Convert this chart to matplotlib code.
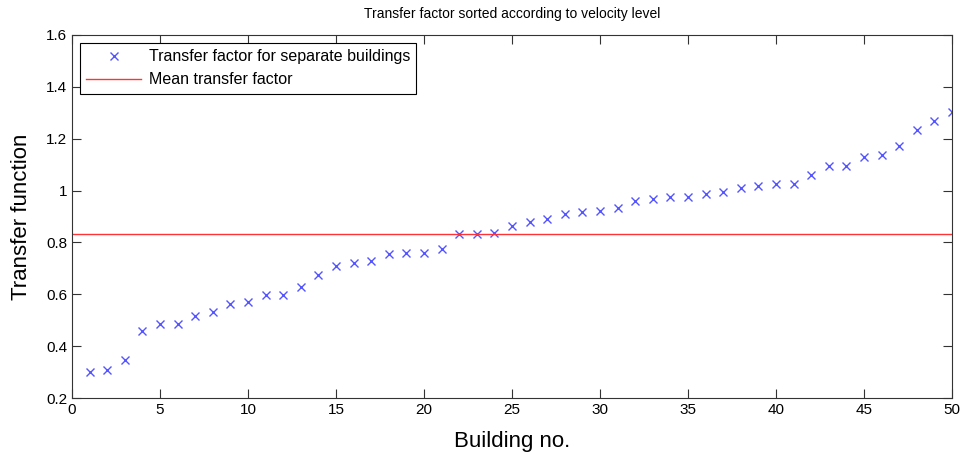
import numpy as np
import matplotlib.pyplot as plt

plt.rcParams['font.family'] = ['Liberation Sans', 'DejaVu Sans']

building_no = np.arange(1, 51)
transfer_factor = [0.30, 0.31, 0.345, 0.46, 0.484, 0.484, 0.517, 0.531, 0.563, 0.570,
                   0.598, 0.598, 0.629, 0.676, 0.709, 0.720, 0.730, 0.756, 0.761, 0.761,
                   0.774, 0.831, 0.833, 0.837, 0.865, 0.878, 0.890, 0.908, 0.917, 0.922,
                   0.931, 0.958, 0.968, 0.976, 0.974, 0.985, 0.995, 1.010, 1.017, 1.026,
                   1.026, 1.061, 1.096, 1.096, 1.129, 1.138, 1.171, 1.233, 1.269, 1.303]
mean_factor = 0.832

fig = plt.figure(figsize=(9.64, 4.57), dpi=100)
ax = fig.add_axes([0.0747, 0.129, 0.9128, 0.7945])

ax.plot(building_no, transfer_factor, 'x', color='#5555ff', markersize=6, markeredgewidth=1,
        label='Transfer factor for separate buildings')
ax.axhline(mean_factor, color='#ff3333', linewidth=1, label='Mean transfer factor')

ax.set_xlim(0, 50)
ax.set_ylim(0.2, 1.6)
ax.set_xticks(np.arange(0, 51, 5))
ax.set_yticks(np.arange(0.2, 1.61, 0.2))
ax.set_yticklabels(['0.2', '0.4', '0.6', '0.8', '1', '1.2', '1.4', '1.6'])
ax.tick_params(direction='in', top=True, right=True, labelsize=11, length=6.5, width=0.8,
               colors='#333333', labelcolor='black')
for s in ax.spines.values():
    s.set_linewidth(0.8)
    s.set_color('#333333')

ax.set_xlabel('Building no.', fontsize=16, labelpad=10)
ax.set_ylabel('Transfer function', fontsize=16, labelpad=10)
ax.set_title('Transfer factor sorted according to velocity level', fontsize=10, pad=12)

leg = ax.legend(loc='upper left', fontsize=11.5, fancybox=False, edgecolor='black',
                framealpha=1, borderaxespad=0.5, handlelength=3.4, handletextpad=0.5)
leg.get_frame().set_linewidth(0.8)

fig.savefig('out.png')
